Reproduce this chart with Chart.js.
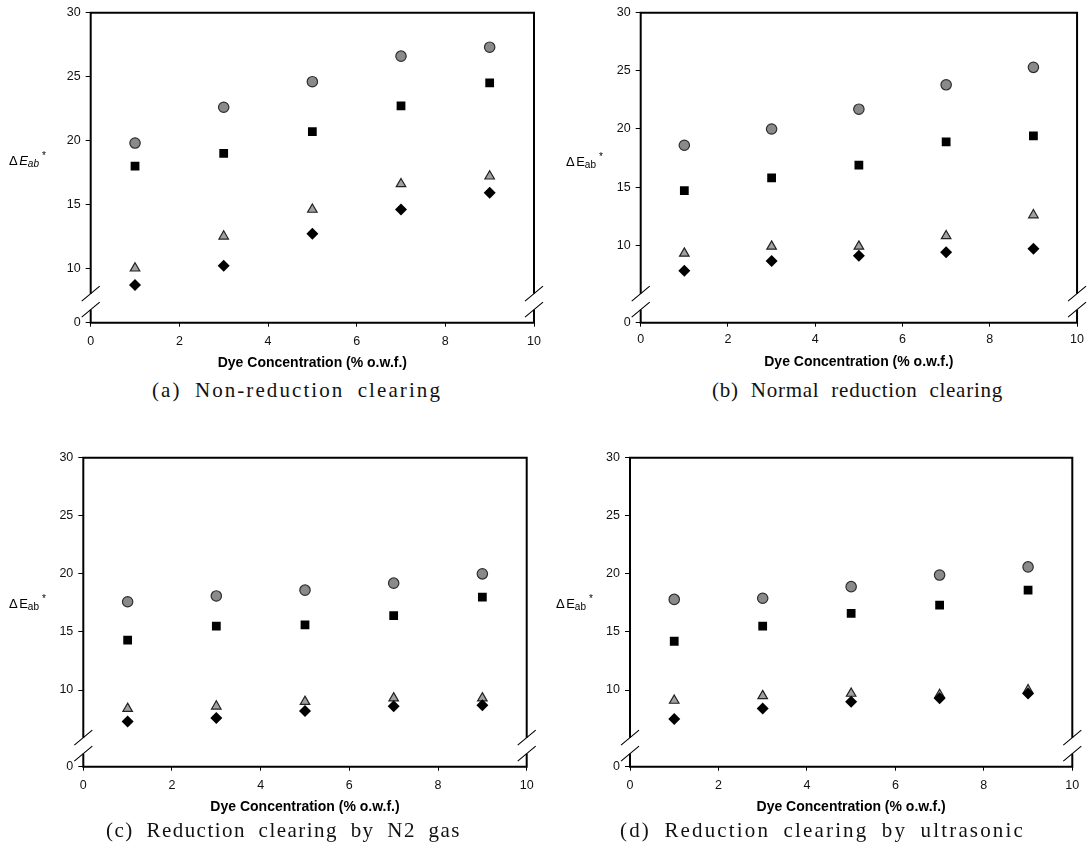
<!DOCTYPE html>
<html>
<head>
<meta charset="utf-8">
<script src="https://cdn.jsdelivr.net/npm/chart.js@4.4.1/dist/chart.umd.min.js"></script>
<style>
body { margin: 0; background: #fff; width: 1089px; height: 854px; position: relative; overflow: hidden; }
canvas { position: absolute; }
.cap { position: absolute; font-family: "Liberation Serif", serif; font-size: 21px; line-height: 21px; word-spacing: 6px; white-space: nowrap; color: #111; }
</style>
</head>
<body>
<canvas id="cA"></canvas>
<canvas id="cB"></canvas>
<canvas id="cC"></canvas>
<canvas id="cD"></canvas>
<div class="cap" id="capA">(a) Non-reduction clearing</div>
<div class="cap" id="capB">(b) Normal reduction clearing</div>
<div class="cap" id="capC">(c) Reduction clearing by N2 gas</div>
<div class="cap" id="capD">(d) Reduction clearing by ultrasonic</div>
<script>
// dye concentration (% o.w.f.)
const conc = [1, 3, 5, 7, 9];
const xTicks = [0, 2, 4, 6, 8, 10];
const yTicks = [10, 15, 20, 25, 30];

// (a) Non-reduction clearing
const aCircle   = [19.8, 22.6, 24.6, 26.6, 27.3];
const aSquare   = [18.0, 19.0, 20.7, 22.7, 24.5];
const aTriangle = [10.0, 12.5, 14.6, 16.6, 17.2];
const aDiamond  = [8.7, 10.2, 12.7, 14.6, 15.9];

// (b) Normal reduction clearing
const bCircle   = [18.6, 20.0, 21.7, 23.8, 25.3];
const bSquare   = [14.7, 15.8, 16.9, 18.9, 19.4];
const bTriangle = [9.3, 9.9, 9.9, 10.8, 12.6];
const bDiamond  = [7.8, 8.65, 9.1, 9.4, 9.7];

// (c) Reduction clearing by N2 gas
const cCircle   = [17.6, 18.1, 18.6, 19.2, 20.0];
const cSquare   = [14.3, 15.5, 15.6, 16.4, 18.0];
const cTriangle = [8.4, 8.6, 9.0, 9.3, 9.3];
const cDiamond  = [7.3, 7.6, 8.2, 8.6, 8.7];

// (d) Reduction clearing by ultrasonic
const dCircle   = [17.8, 17.9, 18.9, 19.9, 20.6];
const dSquare   = [14.2, 15.5, 16.6, 17.3, 18.6];
const dTriangle = [9.1, 9.5, 9.7, 9.6, 10.0];
const dDiamond  = [7.5, 8.4, 9.0, 9.3, 9.7];

// marker look
const MARK = {
    circle:   { r: 5.2, fill: '#8a8a8a', edge: '#2e2e2e', bw: 1.2 },
    rect:     { r: 6.2, fill: '#000', edge: '#000', bw: 0 },
    triangle: { r: 5.5, fill: '#a0a0a0', edge: '#222', bw: 1.2 },
    rectRot:  { r: 6, fill: '#000', edge: '#000', bw: 0 }
};

function serie(style, ys, order) {
    const m = MARK[style];
    return {
        data: conc.map((x, i) => ({ x: x, y: ys[i] })),
        pointStyle: style,
        pointRadius: m.r,
        backgroundColor: m.fill,
        borderColor: m.edge,
        borderWidth: m.bw,
        order: order
    };
}

// marco con cortes de eje + etiqueta del eje y
const framePlugin = {
    id: 'frame',
    afterDraw(chart, args, o) {
        const { ctx, chartArea: a } = chart;
        const b1 = a.bottom - 29, b2 = a.bottom - 13;
        ctx.save();
        ctx.strokeStyle = '#000';
        ctx.lineWidth = 2;
        ctx.beginPath();
        ctx.moveTo(a.left, b1); ctx.lineTo(a.left, a.top); ctx.lineTo(a.right, a.top); ctx.lineTo(a.right, b1);
        ctx.moveTo(a.left, b2); ctx.lineTo(a.left, a.bottom); ctx.lineTo(a.right, a.bottom); ctx.lineTo(a.right, b2);
        ctx.stroke();
        ctx.lineWidth = 1.1;
        ctx.beginPath();
        [a.left, a.right].forEach(x => {
            [b1, b2].forEach(y => { ctx.moveTo(x - 9, y + 7.5); ctx.lineTo(x + 9, y - 7.5); });
        });
        ctx.stroke();

        // ΔEab*
        let x = o.x, y = o.y;
        ctx.fillStyle = '#000';
        ctx.textBaseline = 'alphabetic';
        ctx.textAlign = 'left';
        ctx.font = '13px "Liberation Sans"';
        ctx.fillText('Δ', x, y);
        x += ctx.measureText('Δ').width + 1.5;
        ctx.font = (o.italic ? 'italic ' : '') + '13px "Liberation Sans"';
        ctx.fillText('E', x, y);
        x += ctx.measureText('E').width;
        ctx.font = (o.italic ? 'italic ' : '') + '10px "Liberation Sans"';
        ctx.fillText('ab', x, y + 2);
        x += ctx.measureText('ab').width + 3;
        ctx.font = '10px "Liberation Sans"';
        ctx.fillText('*', x, y - 6);
        ctx.restore();
    }
};

const panels = [
    { id: 'cA', left: 0, top: 0, width: 548, area: { l: 90.7, r: 534, t: 12.7, b: 322.7 }, titleY: 363.3, tickPad: 7, ymin: 5.74,
      lab: { x: 9, y: 165, italic: true }, sets: [aCircle, aSquare, aTriangle, aDiamond] },
    { id: 'cB', left: 548, top: 0, width: 541, area: { l: 640.7, r: 1082.3, t: 12.7, b: 322.7 }, titleY: 362, tickPad: 5, ymin: 3.34,
      lab: { x: 566 - 548, y: 166, italic: false }, sets: [bCircle, bSquare, bTriangle, bDiamond] },
    { id: 'cC', left: 0, top: 440, width: 548, area: { l: 83.3, r: 526.7, t: 457.7, b: 766.7 }, titleY: 807, tickPad: 7, ymin: 3.4,
      lab: { x: 9, y: 608 - 440, italic: false }, sets: [cCircle, cSquare, cTriangle, cDiamond] },
    { id: 'cD', left: 548, top: 440, width: 541, area: { l: 630, r: 1072.3, t: 457.7, b: 766.7 }, titleY: 807, tickPad: 7, ymin: 3.4,
      lab: { x: 556 - 548, y: 608 - 440, italic: false }, sets: [dCircle, dSquare, dTriangle, dDiamond] }
];

const tickFont = { family: 'Liberation Sans', size: 12.5 };
const titleSize = 14, titleLH = titleSize * 1.2;

panels.forEach(p => {
    const cv = document.getElementById(p.id);
    const H = Math.round(p.titleY + 12 - p.top);
    cv.width = p.width; cv.height = H;
    cv.style.left = p.left + 'px'; cv.style.top = p.top + 'px';
    const yW = p.area.l - p.left;
    const xH = p.top + H - p.area.b;
    const titleBottomPad = p.top + H - p.titleY - titleLH / 2;
    new Chart(cv, {
        type: 'scatter',
        data: {
            datasets: [
                serie('circle', p.sets[0], 3),
                serie('rect', p.sets[1], 2),
                serie('triangle', p.sets[2], 1),
                serie('rectRot', p.sets[3], 0)
            ]
        },
        options: {
            responsive: false,
            animation: false,
            devicePixelRatio: 1,
            layout: { padding: { left: 0, top: p.area.t - p.top, right: p.left + p.width - p.area.r, bottom: 0 } },
            plugins: { legend: { display: false }, tooltip: { enabled: false }, frame: p.lab },
            scales: {
                x: {
                    type: 'linear', min: 0, max: 10,
                    afterBuildTicks: s => { s.ticks = xTicks.map(v => ({ value: v })); },
                    afterFit: s => { s.height = xH; },
                    grid: { drawOnChartArea: false, tickLength: 4, color: '#000' },
                    border: { display: false },
                    ticks: { padding: p.tickPad, color: '#111', font: tickFont, maxRotation: 0, autoSkip: false },
                    title: { display: true, text: 'Dye Concentration (% o.w.f.)', color: '#000',
                             padding: { top: 0, bottom: titleBottomPad },
                             font: { family: 'Liberation Sans', size: titleSize, weight: 'bold', lineHeight: 1.2 } }
                },
                y: {
                    type: 'linear', min: p.ymin, max: 30,
                    afterBuildTicks: s => { s.ticks = [p.ymin].concat(yTicks).map(v => ({ value: v })); },
                    afterFit: s => { s.width = yW; },
                    grid: { drawOnChartArea: false, tickLength: 5, color: '#000' },
                    border: { display: false },
                    ticks: { padding: 5, color: '#111', font: tickFont, autoSkip: false,
                             callback: (v, i) => i === 0 ? '0' : v }
                }
            }
        },
        plugins: [framePlugin]
    });
});

// pies de figura
const caps = [
    { id: 'capA', left: 152, cy: 391, w: 290 },
    { id: 'capB', left: 712, cy: 391, w: 291 },
    { id: 'capC', left: 106, cy: 831, w: 355 },
    { id: 'capD', left: 620, cy: 831, w: 405 }
];
caps.forEach(c => {
    const el = document.getElementById(c.id);
    el.style.left = c.left + 'px';
    el.style.top = (c.cy - 11) + 'px';
    const w0 = el.getBoundingClientRect().width;
    el.style.letterSpacing = ((c.w - w0) / el.textContent.length) + 'px';
});
</script>
</body>
</html>
